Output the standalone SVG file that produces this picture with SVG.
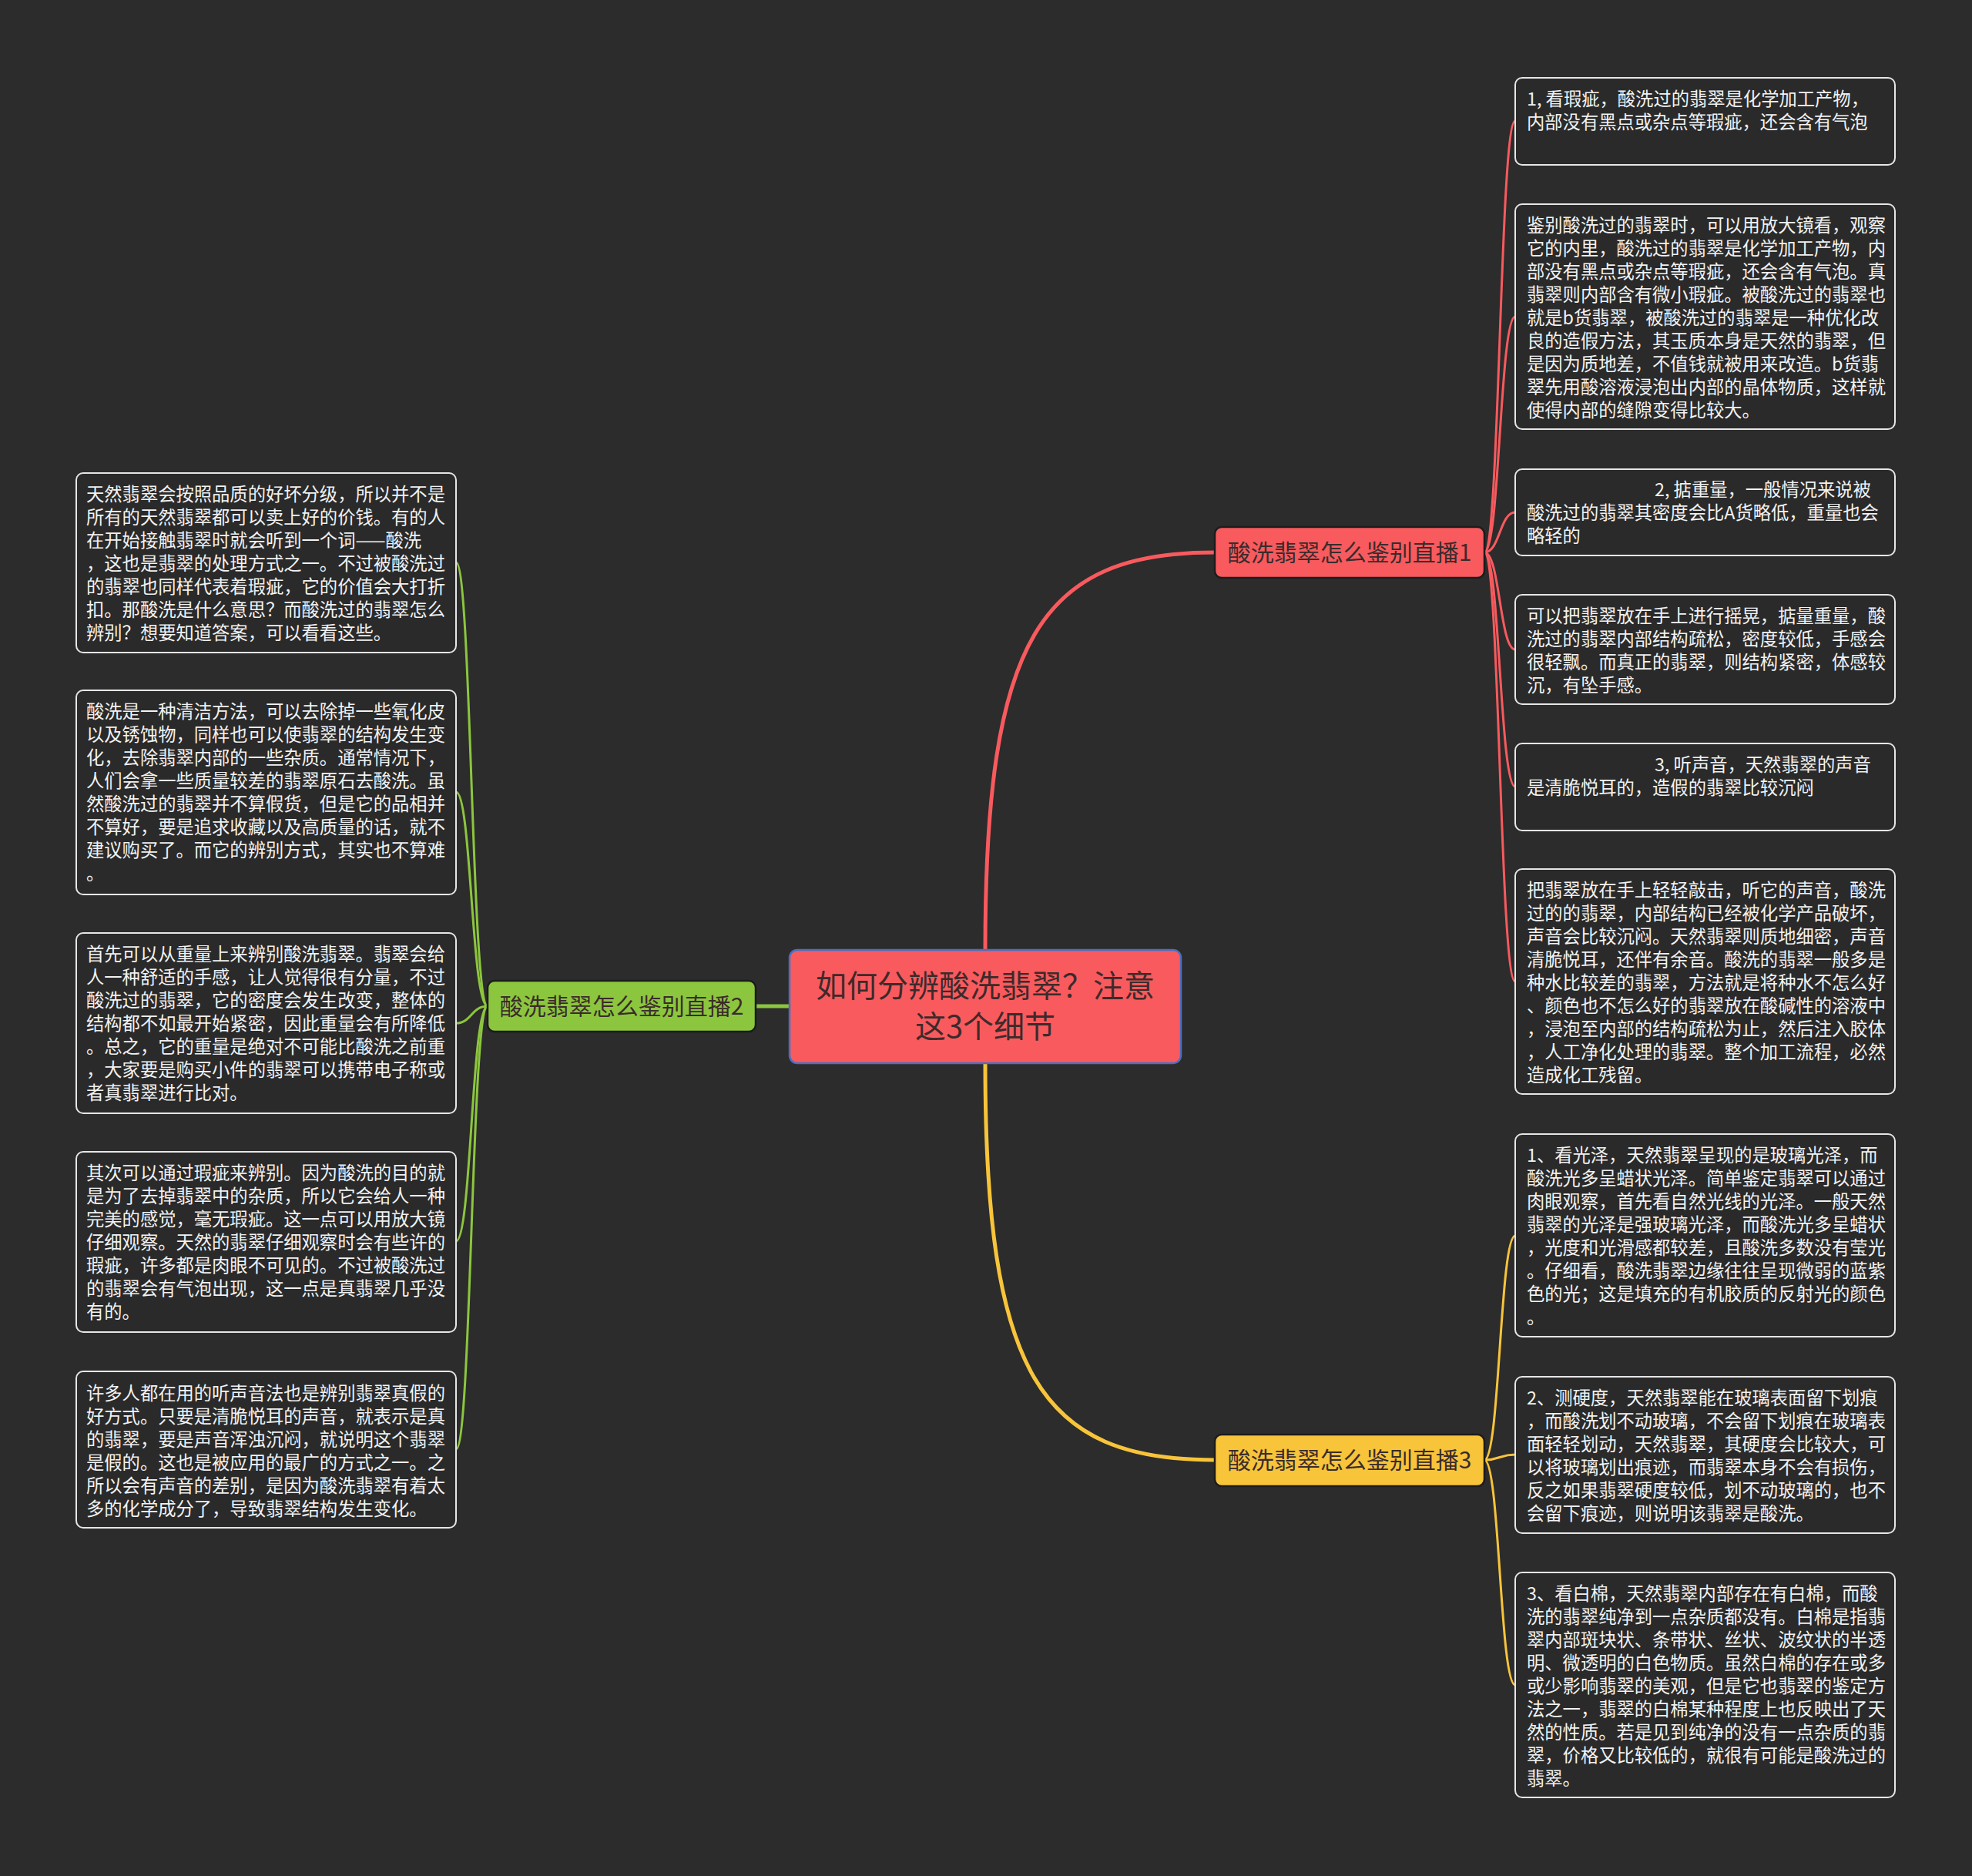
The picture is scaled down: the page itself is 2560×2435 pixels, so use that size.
<svg xmlns="http://www.w3.org/2000/svg" width="2560" height="2435" viewBox="0 0 2560 2435">
<style>
.bg{fill:#2c2c2c}
.box{fill:#2a2a2a;stroke:#e6e6e6;stroke-width:2}
.bt{font-family:"Noto Sans CJK SC","Noto Sans",sans-serif;font-size:23.3px;fill:#f2f2f2}
.br{stroke-width:2.5;stroke:#1c1c1c}
.bl{font-family:"Noto Sans CJK SC","Noto Sans",sans-serif;font-size:30px;fill:#3a2b2b;text-anchor:middle}
.ct{font-family:"Noto Sans CJK SC","Noto Sans",sans-serif;font-size:40px;fill:#3d2a2a;text-anchor:middle}
.c{fill:none;stroke-linecap:round}
.red{stroke:#f85a5e}
.grn{stroke:#8cc63e}
.yel{stroke:#f7c43a}
.main{stroke-width:5}
.sub{stroke-width:3}
</style>
<rect class="bg" x="0" y="0" width="2560" height="2435"/>

<g id="connectors">
  <path class="c red main" d="M1279,1233 C1279,830 1350,717 1577,717"/>
  <path class="c yel main" d="M1279,1380 C1279,1783 1350,1895 1577,1895"/>
  <path class="c grn main" d="M1025,1306 L981,1306"/>
  <path class="c red sub" d="M1927,717 C1947,717 1947,157 1967,157"/>
  <path class="c red sub" d="M1927,717 C1947,717 1947,411 1967,411"/>
  <path class="c red sub" d="M1927,717 C1947,717 1947,665 1967,665"/>
  <path class="c red sub" d="M1927,717 C1947,717 1947,843 1967,843"/>
  <path class="c red sub" d="M1927,717 C1947,717 1947,1021 1967,1021"/>
  <path class="c red sub" d="M1927,717 C1947,717 1947,1274 1967,1274"/>
  <path class="c yel sub" d="M1927,1895 C1947,1895 1947,1604 1967,1604"/>
  <path class="c yel sub" d="M1927,1895 C1947,1895 1947,1888 1967,1888"/>
  <path class="c yel sub" d="M1927,1895 C1947,1895 1947,2187 1967,2187"/>
  <path class="c grn sub" d="M633,1306 C612,1306 612,730 592,730"/>
  <path class="c grn sub" d="M633,1306 C612,1306 612,1028 592,1028"/>
  <path class="c grn sub" d="M633,1306 C612,1306 612,1328 592,1328"/>
  <path class="c grn sub" d="M633,1306 C612,1306 612,1611 592,1611"/>
  <path class="c grn sub" d="M633,1306 C612,1306 612,1881 592,1881"/>
</g>

<g id="center">
  <rect x="1025" y="1233" width="508" height="147" rx="10" fill="#f85a5e" stroke="#4a6fc0" stroke-width="2.5"/>
  <text class="ct"><tspan x="1279" y="1294">如何分辨酸洗翡翠？注意</tspan><tspan x="1279" y="1347">这3个细节</tspan></text>
</g>

<g id="branch1">
  <rect x="1577" y="684" width="350" height="66" rx="9" fill="#f85a5e" class="br"/>
  <text class="bl" x="1752" y="728">酸洗翡翠怎么鉴别直播1</text>
</g>
<g id="branch2">
  <rect x="633" y="1273" width="348" height="66" rx="9" fill="#8cc63e" class="br"/>
  <text class="bl" x="807" y="1317">酸洗翡翠怎么鉴别直播2</text>
</g>
<g id="branch3">
  <rect x="1577" y="1862" width="350" height="67" rx="9" fill="#f7c43a" class="br"/>
  <text class="bl" x="1752" y="1906">酸洗翡翠怎么鉴别直播3</text>
</g>

<g id="r1">
  <rect class="box" x="1967" y="101" width="493" height="113" rx="9"/>
  <text class="bt"><tspan x="1982" y="137">1, 看瑕疵，酸洗过的翡翠是化学加工产物，</tspan><tspan x="1982" y="167">内部没有黑点或杂点等瑕疵，还会含有气泡</tspan></text>
</g>
<g id="r2">
  <rect class="box" x="1967" y="265" width="493" height="292" rx="9"/>
  <text class="bt"><tspan x="1982" y="301">鉴别酸洗过的翡翠时，可以用放大镜看，观察</tspan><tspan x="1982" y="331">它的内里，酸洗过的翡翠是化学加工产物，内</tspan><tspan x="1982" y="361">部没有黑点或杂点等瑕疵，还会含有气泡。真</tspan><tspan x="1982" y="391">翡翠则内部含有微小瑕疵。被酸洗过的翡翠也</tspan><tspan x="1982" y="421">就是b货翡翠，被酸洗过的翡翠是一种优化改</tspan><tspan x="1982" y="451">良的造假方法，其玉质本身是天然的翡翠，但</tspan><tspan x="1982" y="481">是因为质地差，不值钱就被用来改造。b货翡</tspan><tspan x="1982" y="511">翠先用酸溶液浸泡出内部的晶体物质，这样就</tspan><tspan x="1982" y="541">使得内部的缝隙变得比较大。</tspan></text>
</g>
<g id="r3">
  <rect class="box" x="1967" y="609" width="493" height="112" rx="9"/>
  <text class="bt"><tspan x="2148" y="644">2, 掂重量，一般情况来说被</tspan><tspan x="1982" y="674">酸洗过的翡翠其密度会比A货略低，重量也会</tspan><tspan x="1982" y="704">略轻的</tspan></text>
</g>
<g id="r4">
  <rect class="box" x="1967" y="772" width="493" height="142" rx="9"/>
  <text class="bt"><tspan x="1982" y="808">可以把翡翠放在手上进行摇晃，掂量重量，酸</tspan><tspan x="1982" y="838">洗过的翡翠内部结构疏松，密度较低，手感会</tspan><tspan x="1982" y="868">很轻飘。而真正的翡翠，则结构紧密，体感较</tspan><tspan x="1982" y="898">沉，有坠手感。</tspan></text>
</g>
<g id="r5">
  <rect class="box" x="1967" y="965" width="493" height="113" rx="9"/>
  <text class="bt"><tspan x="2148" y="1001">3, 听声音，天然翡翠的声音</tspan><tspan x="1982" y="1031">是清脆悦耳的，造假的翡翠比较沉闷</tspan></text>
</g>
<g id="r6">
  <rect class="box" x="1967" y="1128" width="493" height="292" rx="9"/>
  <text class="bt"><tspan x="1982" y="1164">把翡翠放在手上轻轻敲击，听它的声音，酸洗</tspan><tspan x="1982" y="1194">过的的翡翠，内部结构已经被化学产品破坏，</tspan><tspan x="1982" y="1224">声音会比较沉闷。天然翡翠则质地细密，声音</tspan><tspan x="1982" y="1254">清脆悦耳，还伴有余音。酸洗的翡翠一般多是</tspan><tspan x="1982" y="1284">种水比较差的翡翠，方法就是将种水不怎么好</tspan><tspan x="1982" y="1314">、颜色也不怎么好的翡翠放在酸碱性的溶液中</tspan><tspan x="1982" y="1344">，浸泡至内部的结构疏松为止，然后注入胶体</tspan><tspan x="1982" y="1374">，人工净化处理的翡翠。整个加工流程，必然</tspan><tspan x="1982" y="1404">造成化工残留。</tspan></text>
</g>
<g id="r7">
  <rect class="box" x="1967" y="1472" width="493" height="263" rx="9"/>
  <text class="bt"><tspan x="1982" y="1508">1、看光泽，天然翡翠呈现的是玻璃光泽，而</tspan><tspan x="1982" y="1538">酸洗光多呈蜡状光泽。简单鉴定翡翠可以通过</tspan><tspan x="1982" y="1568">肉眼观察，首先看自然光线的光泽。一般天然</tspan><tspan x="1982" y="1598">翡翠的光泽是强玻璃光泽，而酸洗光多呈蜡状</tspan><tspan x="1982" y="1628">，光度和光滑感都较差，且酸洗多数没有莹光</tspan><tspan x="1982" y="1658">。仔细看，酸洗翡翠边缘往往呈现微弱的蓝紫</tspan><tspan x="1982" y="1688">色的光；这是填充的有机胶质的反射光的颜色</tspan><tspan x="1982" y="1718">。</tspan></text>
</g>
<g id="r8">
  <rect class="box" x="1967" y="1787" width="493" height="203" rx="9"/>
  <text class="bt"><tspan x="1982" y="1823">2、测硬度，天然翡翠能在玻璃表面留下划痕</tspan><tspan x="1982" y="1853">，而酸洗划不动玻璃，不会留下划痕在玻璃表</tspan><tspan x="1982" y="1883">面轻轻划动，天然翡翠，其硬度会比较大，可</tspan><tspan x="1982" y="1913">以将玻璃划出痕迹，而翡翠本身不会有损伤，</tspan><tspan x="1982" y="1943">反之如果翡翠硬度较低，划不动玻璃的，也不</tspan><tspan x="1982" y="1973">会留下痕迹，则说明该翡翠是酸洗。</tspan></text>
</g>
<g id="r9">
  <rect class="box" x="1967" y="2041" width="493" height="292" rx="9"/>
  <text class="bt"><tspan x="1982" y="2077">3、看白棉，天然翡翠内部存在有白棉，而酸</tspan><tspan x="1982" y="2107">洗的翡翠纯净到一点杂质都没有。白棉是指翡</tspan><tspan x="1982" y="2137">翠内部斑块状、条带状、丝状、波纹状的半透</tspan><tspan x="1982" y="2167">明、微透明的白色物质。虽然白棉的存在或多</tspan><tspan x="1982" y="2197">或少影响翡翠的美观，但是它也翡翠的鉴定方</tspan><tspan x="1982" y="2227">法之一，翡翠的白棉某种程度上也反映出了天</tspan><tspan x="1982" y="2257">然的性质。若是见到纯净的没有一点杂质的翡</tspan><tspan x="1982" y="2287">翠，价格又比较低的，就很有可能是酸洗过的</tspan><tspan x="1982" y="2317">翡翠。</tspan></text>
</g>

<g id="l1">
  <rect class="box" x="99" y="614" width="493" height="233" rx="9"/>
  <text class="bt"><tspan x="112" y="650">天然翡翠会按照品质的好坏分级，所以并不是</tspan><tspan x="112" y="680">所有的天然翡翠都可以卖上好的价钱。有的人</tspan><tspan x="112" y="710">在开始接触翡翠时就会听到一个词——酸洗</tspan><tspan x="112" y="740">，这也是翡翠的处理方式之一。不过被酸洗过</tspan><tspan x="112" y="770">的翡翠也同样代表着瑕疵，它的价值会大打折</tspan><tspan x="112" y="800">扣。那酸洗是什么意思？而酸洗过的翡翠怎么</tspan><tspan x="112" y="830">辨别？想要知道答案，可以看看这些。</tspan></text>
</g>
<g id="l2">
  <rect class="box" x="99" y="896" width="493" height="265" rx="9"/>
  <text class="bt"><tspan x="112" y="932">酸洗是一种清洁方法，可以去除掉一些氧化皮</tspan><tspan x="112" y="962">以及锈蚀物，同样也可以使翡翠的结构发生变</tspan><tspan x="112" y="992">化，去除翡翠内部的一些杂质。通常情况下，</tspan><tspan x="112" y="1022">人们会拿一些质量较差的翡翠原石去酸洗。虽</tspan><tspan x="112" y="1052">然酸洗过的翡翠并不算假货，但是它的品相并</tspan><tspan x="112" y="1082">不算好，要是追求收藏以及高质量的话，就不</tspan><tspan x="112" y="1112">建议购买了。而它的辨别方式，其实也不算难</tspan><tspan x="112" y="1142">。</tspan></text>
</g>
<g id="l3">
  <rect class="box" x="99" y="1211" width="493" height="234" rx="9"/>
  <text class="bt"><tspan x="112" y="1247">首先可以从重量上来辨别酸洗翡翠。翡翠会给</tspan><tspan x="112" y="1277">人一种舒适的手感，让人觉得很有分量，不过</tspan><tspan x="112" y="1307">酸洗过的翡翠，它的密度会发生改变，整体的</tspan><tspan x="112" y="1337">结构都不如最开始紧密，因此重量会有所降低</tspan><tspan x="112" y="1367">。总之，它的重量是绝对不可能比酸洗之前重</tspan><tspan x="112" y="1397">，大家要是购买小件的翡翠可以携带电子称或</tspan><tspan x="112" y="1427">者真翡翠进行比对。</tspan></text>
</g>
<g id="l4">
  <rect class="box" x="99" y="1495" width="493" height="234" rx="9"/>
  <text class="bt"><tspan x="112" y="1531">其次可以通过瑕疵来辨别。因为酸洗的目的就</tspan><tspan x="112" y="1561">是为了去掉翡翠中的杂质，所以它会给人一种</tspan><tspan x="112" y="1591">完美的感觉，毫无瑕疵。这一点可以用放大镜</tspan><tspan x="112" y="1621">仔细观察。天然的翡翠仔细观察时会有些许的</tspan><tspan x="112" y="1651">瑕疵，许多都是肉眼不可见的。不过被酸洗过</tspan><tspan x="112" y="1681">的翡翠会有气泡出现，这一点是真翡翠几乎没</tspan><tspan x="112" y="1711">有的。</tspan></text>
</g>
<g id="l5">
  <rect class="box" x="99" y="1780" width="493" height="203" rx="9"/>
  <text class="bt"><tspan x="112" y="1817">许多人都在用的听声音法也是辨别翡翠真假的</tspan><tspan x="112" y="1847">好方式。只要是清脆悦耳的声音，就表示是真</tspan><tspan x="112" y="1877">的翡翠，要是声音浑浊沉闷，就说明这个翡翠</tspan><tspan x="112" y="1907">是假的。这也是被应用的最广的方式之一。之</tspan><tspan x="112" y="1937">所以会有声音的差别，是因为酸洗翡翠有着太</tspan><tspan x="112" y="1967">多的化学成分了，导致翡翠结构发生变化。</tspan></text>
</g>
</svg>
